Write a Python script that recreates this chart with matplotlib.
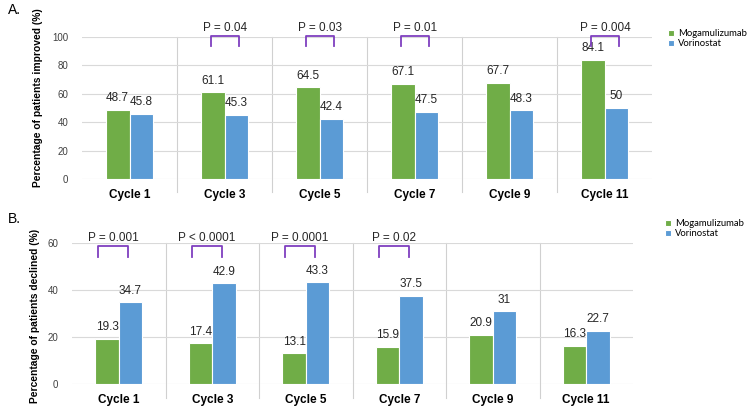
import matplotlib
matplotlib.use("Agg")
from matplotlib import pyplot as plt
from matplotlib.lines import Line2D
import numpy as np

plt.rcParams['font.family'] = ['Liberation Sans', 'DejaVu Sans']

cycles = ["Cycle 1", "Cycle 3", "Cycle 5", "Cycle 7", "Cycle 9", "Cycle 11"]
improved_moga = [48.7, 61.1, 64.5, 67.1, 67.7, 84.1]
improved_vori = [45.8, 45.3, 42.4, 47.5, 48.3, 50]
declined_moga = [19.3, 17.4, 13.1, 15.9, 20.9, 16.3]
declined_vori = [34.7, 42.9, 43.3, 37.5, 31, 22.7]
# (category index, label)
improved_p = [(1, "P = 0.04"), (2, "P = 0.03"), (3, "P = 0.01"), (5, "P = 0.004")]
declined_p = [(0, "P = 0.001"), (1, "P < 0.0001"), (2, "P = 0.0001"), (3, "P = 0.02")]

GREEN = "#70AD47"
BLUE = "#5B9BD5"
PURPLE = "#7F3FBF"
W, H = 750, 407

fig = plt.figure(figsize=(7.5, 4.07), dpi=100)


def px_axes(left, right, top, bottom):
    return fig.add_axes([left / W, (H - bottom) / H, (right - left) / W, (bottom - top) / H])


def panel(ax, moga, vori, ymax, ystep, ylabel, ylab_xy, pvals, ptxt, ptop, pbot,
          br_left, br_right, sep_ext, leg_xy):
    x = np.arange(len(cycles))
    bw = 0.25
    b1 = ax.bar(x - bw / 2, moga, bw, color=GREEN, edgecolor="white", linewidth=0.8, zorder=3)
    b2 = ax.bar(x + bw / 2, vori, bw, color=BLUE, edgecolor="white", linewidth=0.8, zorder=3)
    for bars, vals in ((b1, moga), (b2, vori)):
        for b, v in zip(bars, vals):
            ax.annotate(f"{v:g}", (b.get_x() + b.get_width() / 2, v), xytext=(0, 4),
                        textcoords="offset points", ha="center", va="bottom",
                        fontsize=8.5, color="#262626")
    ax.set_xlim(-0.5, len(cycles) - 0.5)
    ax.set_ylim(0, ymax)
    ax.set_yticks(np.arange(0, ymax + 1, ystep))
    ax.set_xticks(x)
    ax.set_xticklabels(cycles, fontweight="bold", fontsize=8.5)
    ax.tick_params(axis="both", length=0, pad=7)
    ax.tick_params(axis="y", labelsize=7, labelcolor="#404040", pad=10)
    ax.yaxis.grid(True, color="#D9D9D9", linewidth=0.8, zorder=0)
    for s in ax.spines.values():
        s.set_visible(False)
    for i in range(1, len(cycles)):
        ax.axvline(i - 0.5, ymin=-sep_ext, ymax=1, color="#D0D0D0", linewidth=0.8, clip_on=False, zorder=1)
    ax.set_ylabel(ylabel, fontweight="bold", fontsize=7.4)
    ax.yaxis.set_label_coords(ylab_xy[0], ylab_xy[1], transform=fig.transFigure)
    for i, t in pvals:
        xl, xr = i + br_left, i + br_right
        ax.add_line(Line2D([xl, xl, xr, xr], [pbot, ptop, ptop, pbot], color=PURPLE,
                           linewidth=1.3, clip_on=False, zorder=4))
        ax.text((xl + xr) / 2, ptxt, t, ha="center", va="center", fontsize=8.5,
                color="#262626", clip_on=False)
    ax.legend([b1, b2], ["Mogamulizumab", "Vorinostat"], loc="upper left",
              bbox_to_anchor=leg_xy, bbox_transform=fig.transFigure, frameon=False,
              handlelength=0.6, handleheight=0.6, handletextpad=0.5, labelspacing=0.15,
              borderaxespad=0, borderpad=0, prop={"family": "Lato", "size": 6.8})


axA = px_axes(82, 652, 37, 179)
panel(axA, improved_moga, improved_vori, 100, 20, "Percentage of patients improved (%)",
      (43 / W, 1 - 98 / H), improved_p, 106.3, 100.7, 93.7, -0.14, 0.15, 0.095,
      (668 / W, 1 - 29 / H))

axB = px_axes(72, 633, 243, 384)
panel(axB, declined_moga, declined_vori, 60, 20, "Percentage of patients declined (%)",
      (40 / W, 1 - 316 / H), declined_p, 62.2, 58.7, 54.0, -0.22, 0.10, 0.1,
      (665 / W, 1 - 219 / H))

fig.text(8 / W, 1 - 10 / H, "A.", fontsize=10, va="center", ha="left")
fig.text(8 / W, 1 - 219 / H, "B.", fontsize=10, va="center", ha="left")

fig.savefig("out.png", dpi=100)
